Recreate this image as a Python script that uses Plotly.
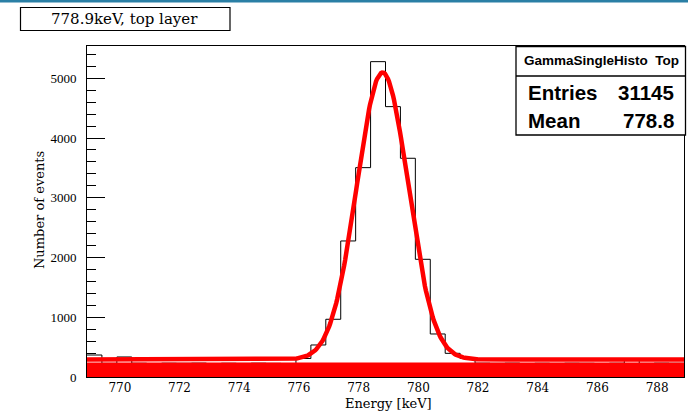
import numpy as np
import plotly.graph_objects as go

# ---------------- data ----------------
bin_low_edge = 768.9
bin_width = 0.5
counts = [368, 228, 335, 230, 226, 231, 229, 232, 224, 230, 227, 231, 228, 226,
          310, 536, 966, 2277, 3504, 5278, 4525, 3661, 1970, 720, 396, 310,
          231, 228, 232, 225, 230, 227, 231, 229, 226, 230, 300, 227, 232, 229]
x_tick_values = [770, 772, 774, 776, 778, 780, 782, 784, 786, 788]
y_tick_values = [0, 1000, 2000, 3000, 4000, 5000]

# Gaussian + flat background fit parameters
fit_background = 292
fit_amplitude = 4805
fit_mean = 778.8
fit_sigma = 0.86

# lower red band level
band_level = 243

title_text = "778.9keV, top layer"
stats_name = "GammaSingleHisto\u00a0\u00a0Top"
stats_entries = "31145"
stats_mean = "778.8"

# ---------------- derived ----------------
n_bins = len(counts)
edges = bin_low_edge + bin_width * np.arange(n_bins + 1)
x_lo, x_hi = edges[0], edges[-1]
step_x = list(edges)
step_y = list(counts) + [counts[-1]]

fit_x = np.linspace(x_lo, x_hi, 600)
fit_y = fit_background + fit_amplitude * np.exp(-0.5 * ((fit_x - fit_mean) / fit_sigma) ** 2)

# pixel helpers for layout elements (plot area: x 87..684, y 46..377)
L, R, T, B = 87, 684, 46, 377
def px(x):
    return (x - L) / (R - L)
def py(y):
    return (B - y) / (B - T)

fig = go.Figure()
fig.add_trace(go.Scatter(x=step_x, y=step_y, mode="lines",
                         line=dict(color="black", width=1, shape="hv"),
                         hoverinfo="skip", showlegend=False))
fig.add_trace(go.Scatter(x=[x_lo, x_hi], y=[band_level, band_level], mode="lines",
                         fill="tozeroy", fillcolor="#ff0000",
                         line=dict(color="#ff0000", width=0),
                         hoverinfo="skip", showlegend=False))
fig.add_trace(go.Scatter(x=fit_x, y=fit_y, mode="lines",
                         line=dict(color="#ff0000", width=4.5),
                         hoverinfo="skip", showlegend=False))

serif = "DejaVu Serif"
fig.update_layout(
    width=688, height=411, autosize=False,
    margin=dict(l=L, r=688 - R, t=T, b=411 - B, pad=0),
    paper_bgcolor="white", plot_bgcolor="white",
    xaxis=dict(range=[x_lo, x_hi], tickvals=x_tick_values, ticks="",
               showline=True, mirror=True, linecolor="black", linewidth=1,
               showgrid=False, zeroline=False, layer="below traces",
               tickfont=dict(family=serif, size=12, color="black")),
    yaxis=dict(range=[0, 5540], tickvals=y_tick_values, tickformat="d",
               ticks="inside", ticklen=18, tickwidth=1, tickcolor="black",
               minor=dict(dtick=200, tick0=0, ticks="inside", ticklen=9,
                          tickwidth=1, tickcolor="black", showgrid=False),
               showline=True, mirror=True, linecolor="black", linewidth=1,
               showgrid=False, zeroline=False, layer="below traces",
               ticklabelstandoff=7,
               tickfont=dict(family="Liberation Serif", size=13, color="black")),
    shapes=[
        dict(type="rect", xref="paper", yref="paper",
             x0=px(-2), x1=px(690), y0=py(0), y1=py(2.5),
             fillcolor="#2a7fa5", line=dict(width=0), layer="above"),
        dict(type="rect", xref="paper", yref="paper",
             x0=px(20.5), x1=px(230), y0=py(30.5), y1=py(7.5),
             fillcolor="white", line=dict(color="black", width=1.2), layer="above"),
        dict(type="rect", xref="paper", yref="paper",
             x0=px(516), x1=px(685.5), y0=py(135), y1=py(46.5),
             fillcolor="white", line=dict(color="black", width=1.3), layer="above"),
        dict(type="line", xref="paper", yref="paper",
             x0=px(516), x1=px(685.5), y0=py(76), y1=py(76),
             line=dict(color="black", width=1.3), layer="above"),
    ],
    annotations=[
        dict(text=title_text, xref="paper", yref="paper", x=px(124), y=py(19),
             xanchor="center", yanchor="middle", showarrow=False,
             font=dict(family=serif, size=15, color="black")),
        dict(text="<b>" + stats_name + "</b>", xref="paper", yref="paper",
             x=px(601.5), y=py(61), xanchor="center", yanchor="middle", showarrow=False,
             font=dict(family="Liberation Sans", size=13.5, color="black")),
        dict(text="<b>Entries</b>", xref="paper", yref="paper",
             x=px(526), y=py(92.5), xanchor="left", yanchor="middle", showarrow=False,
             font=dict(family="Liberation Sans", size=20.5, color="black")),
        dict(text="<b>" + stats_entries + "</b>", xref="paper", yref="paper",
             x=px(676), y=py(92.5), xanchor="right", yanchor="middle", showarrow=False,
             font=dict(family="Liberation Sans", size=20.5, color="black")),
        dict(text="<b>Mean</b>", xref="paper", yref="paper",
             x=px(526), y=py(120.5), xanchor="left", yanchor="middle", showarrow=False,
             font=dict(family="Liberation Sans", size=20.5, color="black")),
        dict(text="<b>" + stats_mean + "</b>", xref="paper", yref="paper",
             x=px(676), y=py(120.5), xanchor="right", yanchor="middle", showarrow=False,
             font=dict(family="Liberation Sans", size=20.5, color="black")),
        dict(text="Energy [keV]", xref="paper", yref="paper", x=px(388), y=py(403),
             xanchor="center", yanchor="middle", showarrow=False,
             font=dict(family=serif, size=13, color="black")),
        dict(text="Number of events", xref="paper", yref="paper", x=px(39), y=py(210),
             xanchor="center", yanchor="middle", showarrow=False, textangle=-90,
             font=dict(family=serif, size=13, color="black")),
    ],
)

fig.write_html("out.html")
